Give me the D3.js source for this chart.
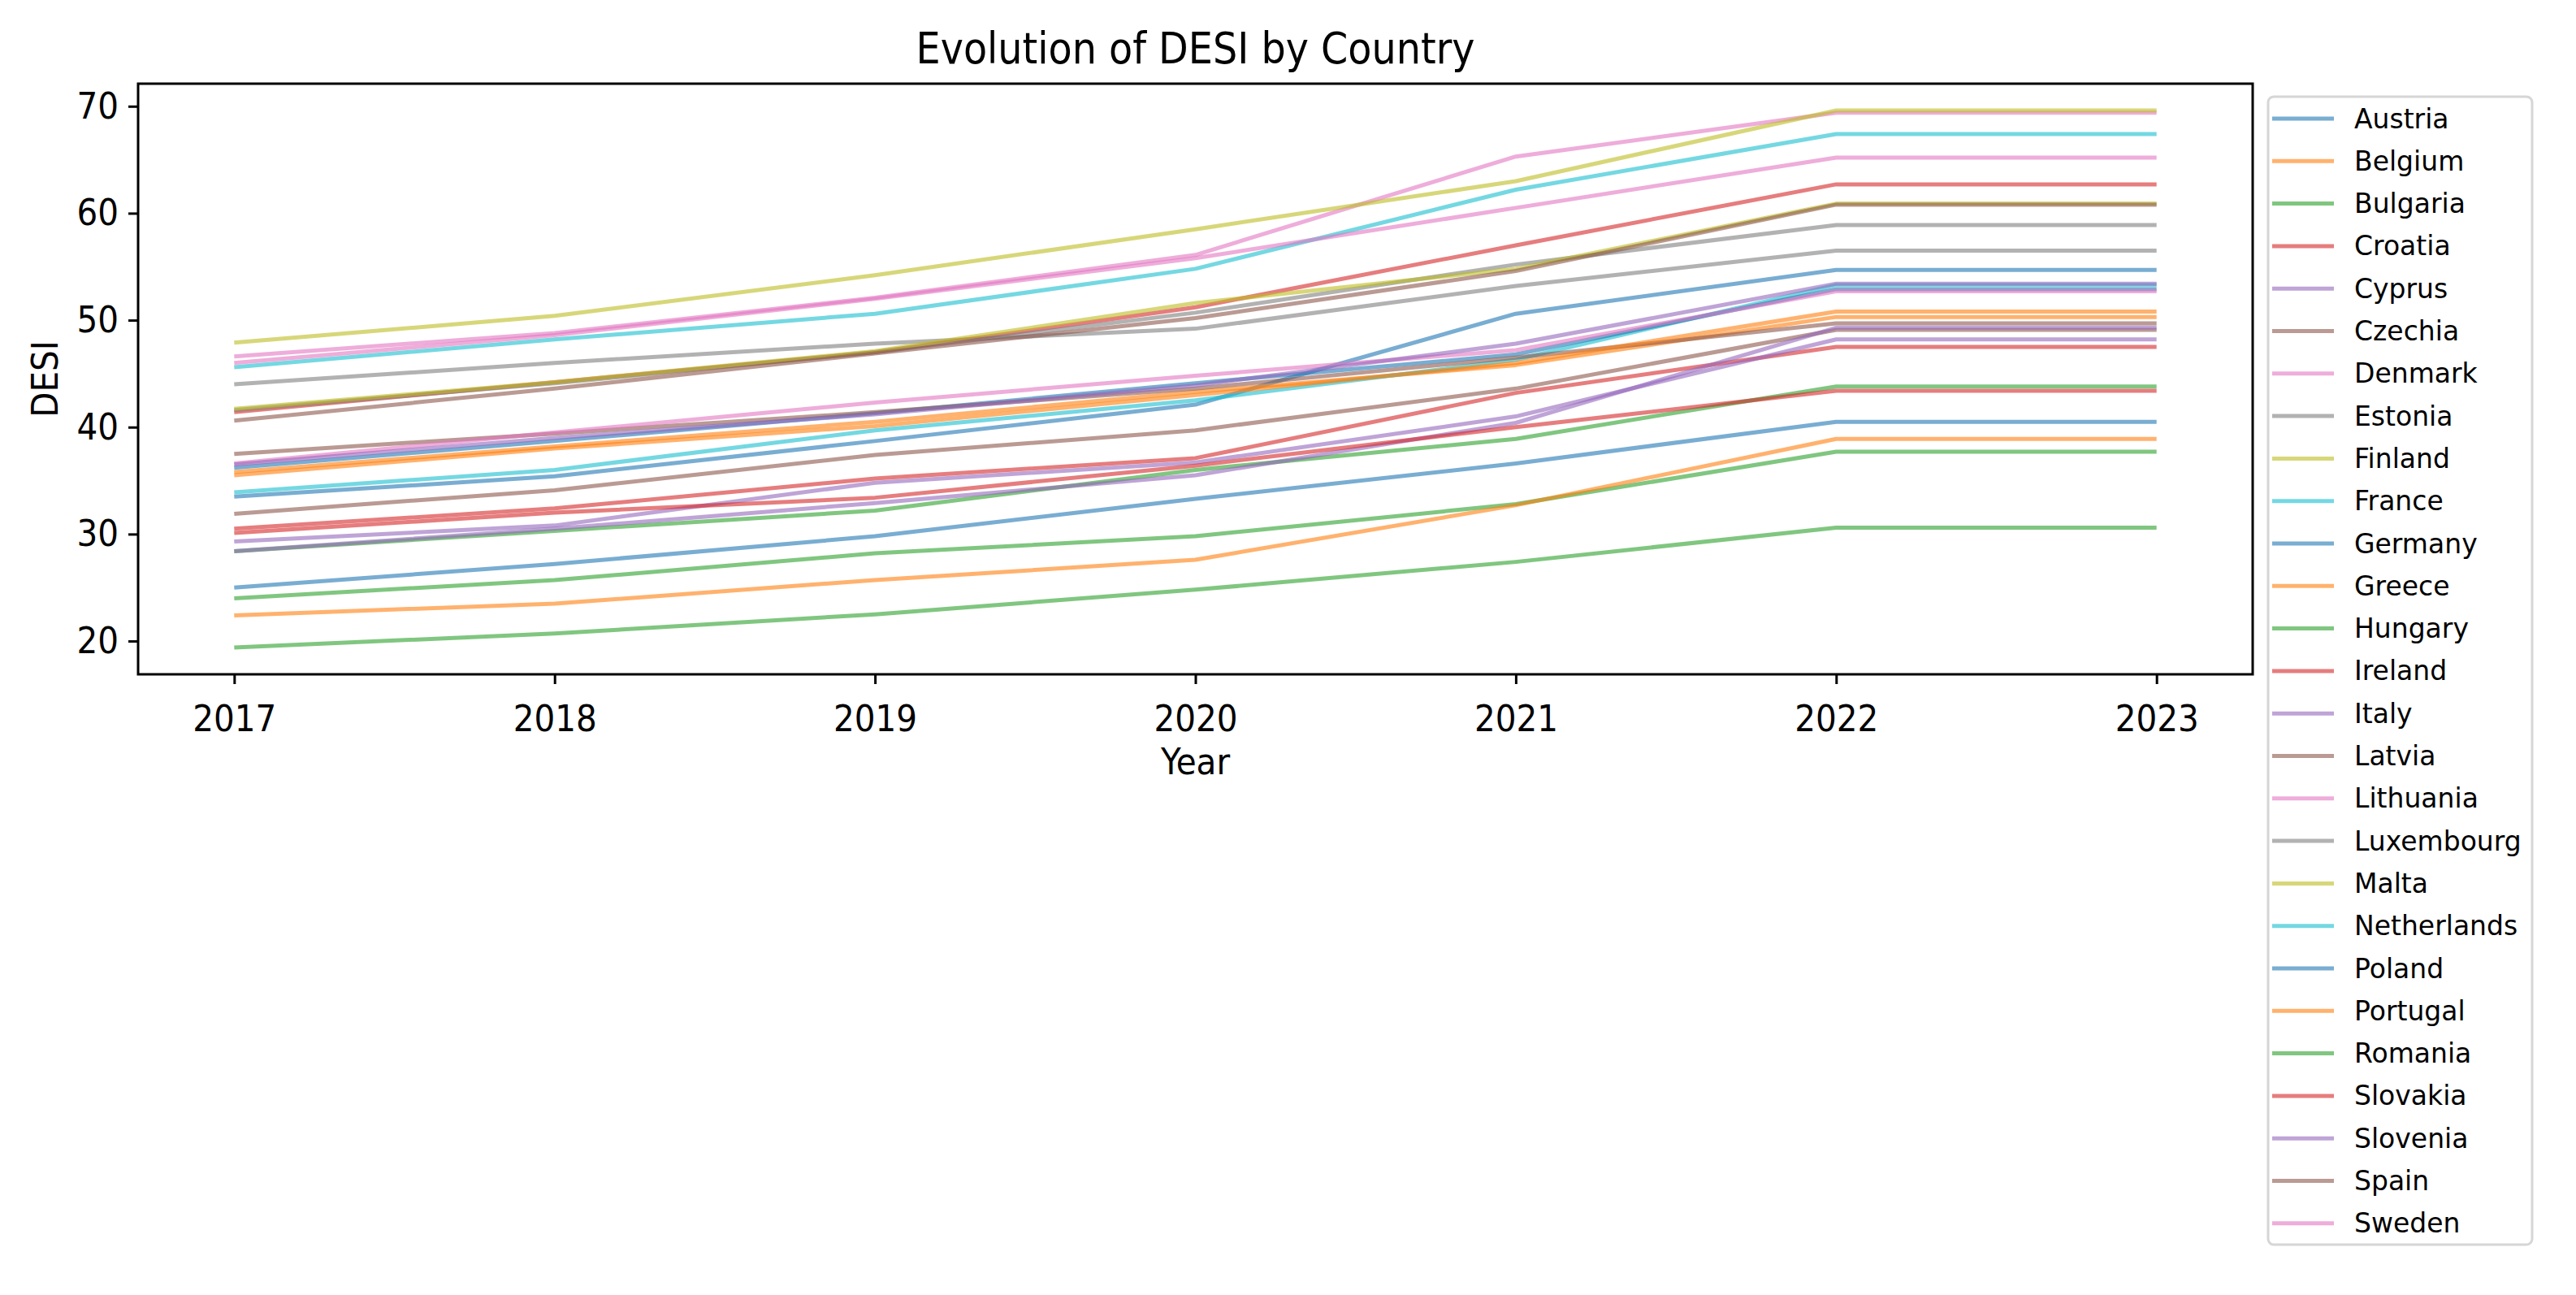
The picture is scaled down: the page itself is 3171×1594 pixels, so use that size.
<!DOCTYPE html>
<html>
<head>
<meta charset="utf-8">
<script src="https://cdn.jsdelivr.net/npm/d3@7/dist/d3.min.js"></script>
<style>
  html, body { margin: 0; padding: 0; background: #ffffff; }
  svg { display: block; }
  text { font-family: "DejaVu Sans", sans-serif; fill: #000; }
  .cond { font-family: "DejaVu Sans Condensed", "DejaVu Sans", sans-serif; font-stretch: condensed; }
</style>
</head>
<body>
<svg id="chart" width="3171" height="1594"></svg>
<script>
// ---------------- data ----------------
const years = [2017, 2018, 2019, 2020, 2021, 2022, 2023];
const yTicks = [20, 30, 40, 50, 60, 70];

const countries = ["Austria","Belgium","Bulgaria","Croatia","Cyprus","Czechia","Denmark","Estonia","Finland","France",
  "Germany","Greece","Hungary","Ireland","Italy","Latvia","Lithuania","Luxembourg","Malta","Netherlands",
  "Poland","Portugal","Romania","Slovakia","Slovenia","Spain","Sweden"];

const austria     = [33.5, 35.4, 38.7, 42.1, 50.6, 54.7, 54.7];
const belgium     = [35.8, 38.2, 40.5, 43.3, 45.8, 50.3, 50.3];
const bulgaria    = [24.0, 25.7, 28.2, 29.8, 32.8, 37.7, 37.7];
const croatia     = [30.5, 32.4, 35.2, 37.1, 43.2, 47.5, 47.5];
const cyprus      = [29.3, 30.8, 34.8, 36.7, 41.0, 48.2, 48.2];
const czechia     = [31.9, 34.1, 37.4, 39.7, 43.6, 49.1, 49.1];
const denmark     = [46.6, 48.8, 52.1, 56.1, 65.3, 69.4, 69.4];
const estonia     = [44.0, 46.0, 47.8, 49.2, 53.2, 56.5, 56.5];
const finland     = [47.9, 50.4, 54.2, 58.5, 63.0, 69.6, 69.6];
const france      = [33.9, 36.0, 39.7, 42.5, 46.3, 53.3, 53.3];
const germany     = [36.2, 38.7, 41.3, 44.1, 46.8, 52.9, 52.9];
const greece      = [22.4, 23.5, 25.7, 27.6, 32.7, 38.9, 38.9];
const hungary     = [28.4, 30.3, 32.2, 36.0, 38.9, 43.8, 43.8];
const ireland     = [41.4, 44.2, 47.0, 51.2, 57.0, 62.7, 62.7];
const italy       = [28.4, 30.5, 32.9, 35.5, 40.4, 49.3, 49.3];
const latvia      = [37.5, 39.4, 41.4, 43.6, 46.5, 49.7, 49.7];
const lithuania   = [36.6, 39.5, 42.3, 44.8, 47.2, 52.7, 52.7];
const luxembourg  = [41.6, 44.1, 47.0, 50.7, 55.2, 58.9, 58.9];
const malta       = [41.7, 44.2, 47.1, 51.6, 54.8, 60.9, 60.9];
const netherlands = [45.6, 48.2, 50.6, 54.8, 62.2, 67.4, 67.4];
const poland      = [25.0, 27.2, 29.8, 33.3, 36.6, 40.5, 40.5];
const portugal    = [35.5, 38.0, 40.1, 43.0, 46.0, 50.8, 50.8];
const romania     = [19.4, 20.7, 22.5, 24.8, 27.4, 30.6, 30.6];
const slovakia    = [30.1, 32.0, 33.4, 36.4, 40.0, 43.4, 43.4];
const slovenia    = [36.5, 39.0, 41.2, 43.9, 47.8, 53.4, 53.4];
const spain       = [40.6, 43.6, 46.9, 50.2, 54.6, 60.8, 60.8];
const sweden      = [46.0, 48.6, 52.0, 55.8, 60.5, 65.2, 65.2];

const seriesValues = [austria, belgium, bulgaria, croatia, cyprus, czechia, denmark, estonia, finland, france,
  germany, greece, hungary, ireland, italy, latvia, lithuania, luxembourg, malta, netherlands,
  poland, portugal, romania, slovakia, slovenia, spain, sweden];

const palette = ["#1f77b4","#ff7f0e","#2ca02c","#d62728","#9467bd","#8c564b","#e377c2","#7f7f7f","#bcbd22","#17becf"];

// ---------------- layout ----------------
const W = 3171, H = 1594;
const plot = { left: 170, right: 2773, top: 103, bottom: 830 };
const lineAlpha = 0.6;

const svg = d3.select("#chart");
svg.append("rect").attr("width", W).attr("height", H).attr("fill", "#fff");

const series = countries.map((name, i) => ({
  name, color: palette[i % palette.length],
  points: years.map((y, j) => ({ year: y, value: seriesValues[i][j] }))
}));

const allVals = seriesValues.flat();
const vMin = d3.min(allVals), vMax = d3.max(allVals);
const vPad = (vMax - vMin) * 0.05;
const xPad = (years[years.length - 1] - years[0]) * 0.05;

const x = d3.scaleLinear()
  .domain([years[0] - xPad, years[years.length - 1] + xPad])
  .range([plot.left, plot.right]);
const y = d3.scaleLinear()
  .domain([vMin - vPad, vMax + vPad])
  .range([plot.bottom, plot.top]);

// lines
const line = d3.line().x(d => x(d.year)).y(d => y(d.value));
const gLines = svg.append("g");
series.forEach(s => {
  gLines.append("path")
    .datum(s.points)
    .attr("d", line)
    .attr("fill", "none")
    .attr("stroke", s.color)
    .attr("stroke-opacity", lineAlpha)
    .attr("stroke-width", 5)
    .attr("stroke-linejoin", "round")
    .attr("stroke-linecap", "butt");
});

// axes
const tickFont = 45;
const xAxis = d3.axisBottom(x).tickValues(years).tickFormat(d3.format("d")).tickSize(12).tickPadding(26);
const yAxis = d3.axisLeft(y).tickValues(yTicks).tickFormat(d3.format("d")).tickSize(12).tickPadding(12);

const gx = svg.append("g").attr("transform", `translate(0,${plot.bottom})`).call(xAxis);
const gy = svg.append("g").attr("transform", `translate(${plot.left},0)`).call(yAxis);
[gx, gy].forEach(g => {
  g.select(".domain").remove();
  g.attr("font-family", null);
  g.selectAll(".tick line").attr("stroke", "#000").attr("stroke-width", 3);
  g.selectAll(".tick text").attr("class", "cond").attr("font-size", tickFont).attr("fill", "#000");
});

// frame
svg.append("rect")
  .attr("x", plot.left).attr("y", plot.top)
  .attr("width", plot.right - plot.left).attr("height", plot.bottom - plot.top)
  .attr("fill", "none").attr("stroke", "#000").attr("stroke-width", 3);

// title & labels
svg.append("text").attr("class", "cond").attr("x", (plot.left + plot.right) / 2).attr("y", 78)
  .attr("text-anchor", "middle").attr("font-size", 53)
  .text("Evolution of DESI by Country");
svg.append("text").attr("class", "cond").attr("x", (plot.left + plot.right) / 2).attr("y", 953)
  .attr("text-anchor", "middle").attr("font-size", 45).text("Year");
svg.append("text").attr("class", "cond")
  .attr("transform", `translate(71,${(plot.top + plot.bottom) / 2}) rotate(-90)`)
  .attr("text-anchor", "middle").attr("font-size", 45).text("DESI");

// legend
const legend = { x: 2792, y: 119, w: 325, h: 1413, first: 146, step: 52.3 };
svg.append("rect")
  .attr("x", legend.x).attr("y", legend.y).attr("width", legend.w).attr("height", legend.h)
  .attr("rx", 7).attr("ry", 7)
  .attr("fill", "#fff").attr("fill-opacity", 0.8)
  .attr("stroke", "#d6d6d6").attr("stroke-width", 3);

const gLeg = svg.append("g");
series.forEach((s, i) => {
  const cy = legend.first + i * legend.step;
  gLeg.append("line")
    .attr("x1", 2797).attr("x2", 2873).attr("y1", cy).attr("y2", cy)
    .attr("stroke", s.color).attr("stroke-opacity", lineAlpha).attr("stroke-width", 5);
  gLeg.append("text")
    .attr("x", 2898).attr("y", cy).attr("dy", "0.35em")
    .attr("font-size", 33).text(s.name);
});
</script>
</body>
</html>
